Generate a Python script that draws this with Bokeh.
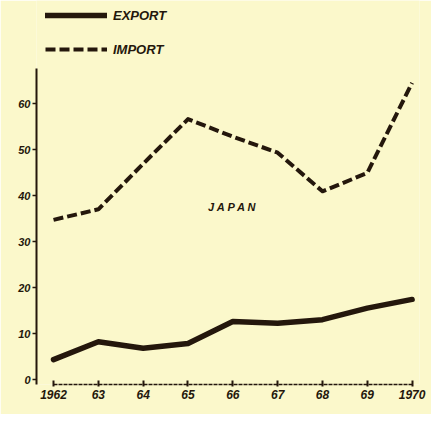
from bokeh.plotting import figure
from bokeh.models import Legend, LegendItem, Label, FixedTicker, Range1d
from bokeh.embed import file_html
from bokeh.resources import INLINE

years = [1962, 1963, 1964, 1965, 1966, 1967, 1968, 1969, 1970]
year_labels = ["1962", "63", "64", "65", "66", "67", "68", "69", "1970"]
export_vals = [4.4, 8.3, 6.9, 7.9, 12.7, 12.3, 13.1, 15.6, 17.5]
import_vals = [34.8, 37.1, 47.0, 56.7, 52.9, 49.4, 41.0, 45.0, 64.6]
y_ticks = [0, 10, 20, 30, 40, 50, 60]

BG = "#fbf8cb"
INK = "#24170c"
FONT = "Liberation Sans"

p = figure(width=431, height=414, output_backend="svg", toolbar_location=None,
           x_range=Range1d(1961.62, 1970.165), y_range=Range1d(-1.0, 82.5),
           min_border_left=36, min_border_bottom=30, min_border_top=0, min_border_right=12)
p.background_fill_color = BG
p.border_fill_color = BG
p.outline_line_color = None
p.grid.visible = False

r_exp = p.line(years, export_vals, line_color=INK, line_width=5.5, line_join="round", line_cap="round")
r_imp = p.line(years, import_vals, line_color=INK, line_width=4, line_dash="10 4", line_join="round")

# axes
xa = p.xaxis[0]
xa.ticker = FixedTicker(ticks=years)
xa.major_label_overrides = {y: l for y, l in zip(years, year_labels)}
xa.bounds = (1962, 1970)
xa.axis_line_color = INK
xa.axis_line_width = 1.5
xa.axis_line_dash = "4 1"
xa.major_tick_in = 4
xa.major_tick_out = 2
xa.major_tick_line_color = INK
xa.major_tick_line_width = 2
xa.minor_tick_line_color = None
xa.major_label_text_font = FONT
xa.major_label_text_font_style = "bold italic"
xa.major_label_text_font_size = "12px"
xa.major_label_text_color = INK
xa.major_label_standoff = 3

ya = p.yaxis[0]
ya.ticker = FixedTicker(ticks=y_ticks)
ya.bounds = (-1.0, 67.7)
ya.axis_line_color = INK
ya.axis_line_width = 2
ya.major_tick_in = 0
ya.major_tick_out = 4
ya.major_tick_line_color = INK
ya.major_tick_line_width = 1.5
ya.minor_tick_line_color = None
ya.major_label_text_font = FONT
ya.major_label_text_font_style = "bold italic"
ya.major_label_text_font_size = "11px"
ya.major_label_text_color = INK
ya.major_label_standoff = 2

legend = Legend(items=[LegendItem(label="EXPORT", renderers=[r_exp]),
                       LegendItem(label="IMPORT", renderers=[r_imp])],
                location=(9, 325))
legend.background_fill_alpha = 0
legend.border_line_color = None
legend.glyph_width = 62
legend.glyph_height = 20
legend.spacing = 14
legend.padding = 0
legend.margin = 0
legend.label_standoff = 6
legend.label_text_font = FONT
legend.label_text_font_style = "bold italic"
legend.label_text_font_size = "13px"
legend.label_text_color = INK
p.add_layout(legend)

p.add_layout(Label(x=1966.0, y=37.7, text="J A P A N", text_align="center", text_baseline="middle",
                   text_font=FONT, text_font_style="bold italic", text_font_size="11px",
                   text_color=INK))

open("out.html", "w").write(file_html(p, INLINE))
